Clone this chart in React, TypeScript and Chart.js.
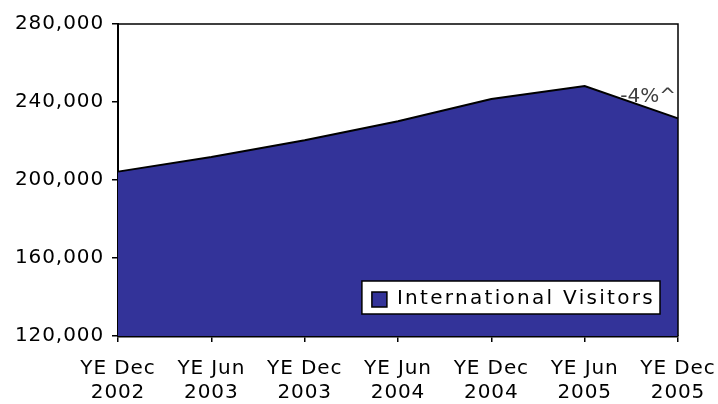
import React, { useEffect, useRef } from "react";
import { Chart, registerables } from "chart.js";

Chart.register(...registerables);

const categories: string[][] = [
  ["YE Dec", "2002"],
  ["YE Jun", "2003"],
  ["YE Dec", "2003"],
  ["YE Jun", "2004"],
  ["YE Dec", "2004"],
  ["YE Jun", "2005"],
  ["YE Dec", "2005"],
];
const visitors: number[] = [204300, 211800, 220400, 230100, 241500, 248200, 231600];
const seriesName = "International Visitors";
const annotationText = "-4%^";
const yTicks: number[] = [120000, 160000, 200000, 240000, 280000];

const FONT = "'DejaVu Sans', Verdana, sans-serif";

const spacingPlugin = {
  id: "spacing",
  beforeDraw(chart: any) {
    (chart.ctx as any).letterSpacing = "0.9px";
  },
};

const framePlugin = {
  id: "frame",
  afterDatasetsDraw(chart: any) {
    const { ctx, chartArea } = chart;
    ctx.save();
    ctx.strokeStyle = "#000";
    ctx.lineWidth = 1.5;
    ctx.beginPath();
    ctx.moveTo(chartArea.left, chartArea.top);
    ctx.lineTo(chartArea.right, chartArea.top);
    ctx.lineTo(chartArea.right, chartArea.bottom);
    ctx.stroke();
    ctx.restore();
  },
};

const annotationPlugin = {
  id: "annot",
  afterDatasetsDraw(chart: any) {
    const { ctx, scales } = chart;
    const x = scales.x.getPixelForValue(5.68);
    const y = scales.y.getPixelForValue(242500);
    ctx.save();
    (ctx as any).letterSpacing = "0px";
    ctx.font = `20px ${FONT}`;
    ctx.fillStyle = "#404040";
    ctx.textAlign = "center";
    ctx.textBaseline = "middle";
    ctx.fillText(annotationText, x, y);
    ctx.restore();
  },
};

const legendPlugin = {
  id: "boxLegend",
  afterDraw(chart: any) {
    const { ctx, chartArea } = chart;
    const ds = chart.data.datasets[0];
    const boxRight = chartArea.right - 18;
    const boxBottom = chartArea.bottom - 22;
    ctx.save();
    (ctx as any).letterSpacing = "2.3px";
    ctx.font = `20px ${FONT}`;
    const tw = ctx.measureText(ds.label).width;
    const w = tw + 40;
    const h = 33;
    const x0 = boxRight - w;
    const y0 = boxBottom - h;
    ctx.fillStyle = "#fff";
    ctx.fillRect(x0, y0, w, h);
    ctx.strokeStyle = "#000";
    ctx.lineWidth = 1.5;
    ctx.strokeRect(x0, y0, w, h);
    ctx.fillStyle = ds.backgroundColor;
    ctx.fillRect(x0 + 10, y0 + 11, 15, 15);
    ctx.strokeRect(x0 + 10, y0 + 11, 15, 15);
    ctx.fillStyle = "#000";
    ctx.textBaseline = "middle";
    ctx.textAlign = "left";
    ctx.fillText(ds.label, x0 + 35, y0 + h / 2 + 1);
    ctx.restore();
  },
};

export default function App() {
  const ref = useRef<HTMLCanvasElement | null>(null);
  useEffect(() => {
    if (!ref.current) return;
    const chart = new Chart(ref.current, {
      type: "line",
      data: {
        labels: categories,
        datasets: [
          {
            label: seriesName,
            data: visitors,
            borderColor: "#000",
            borderWidth: 2,
            backgroundColor: "#333399",
            fill: "start",
            pointRadius: 0,
            tension: 0,
          },
        ],
      },
      options: {
        animation: false,
        responsive: false,
        maintainAspectRatio: false,
        layout: { padding: { left: 0, right: 40, top: 24, bottom: 0 } },
        plugins: { legend: { display: false }, tooltip: { enabled: false } },
        scales: {
          x: {
            type: "category",
            offset: false,
            grid: { drawOnChartArea: false, color: "#000", tickLength: 6, lineWidth: 1.5 },
            border: { color: "#000", width: 2.5 },
            ticks: {
              color: "#000",
              font: { family: FONT, size: 20, lineHeight: 1.2 },
              maxRotation: 0,
              autoSkip: false,
              padding: 15,
            },
            afterFit(scale: any) {
              scale.height = 68;
              scale.paddingLeft = 0;
              scale.paddingRight = 0;
            },
          },
          y: {
            min: 120000,
            max: 280000,
            afterBuildTicks(scale: any) {
              scale.ticks = yTicks.map((v) => ({ value: v }));
            },
            grid: { drawOnChartArea: false, color: "#000", tickLength: 6, lineWidth: 1.5 },
            border: { color: "#000", width: 2 },
            ticks: {
              color: "#000",
              font: { family: FONT, size: 20 },
              padding: 8,
              callback: (v: any) => Number(v).toLocaleString("en-US"),
            },
            afterFit(scale: any) {
              scale.width = 118;
            },
          },
        },
      },
      plugins: [spacingPlugin, framePlugin, annotationPlugin, legendPlugin],
    });
    return () => chart.destroy();
  }, []);
  return (
    <div style={{ position: "fixed", left: 0, top: 0, width: 718, height: 404, background: "#fff" }}>
      <canvas ref={ref} width={718} height={404} style={{ width: 718, height: 404 }} />
    </div>
  );
}
